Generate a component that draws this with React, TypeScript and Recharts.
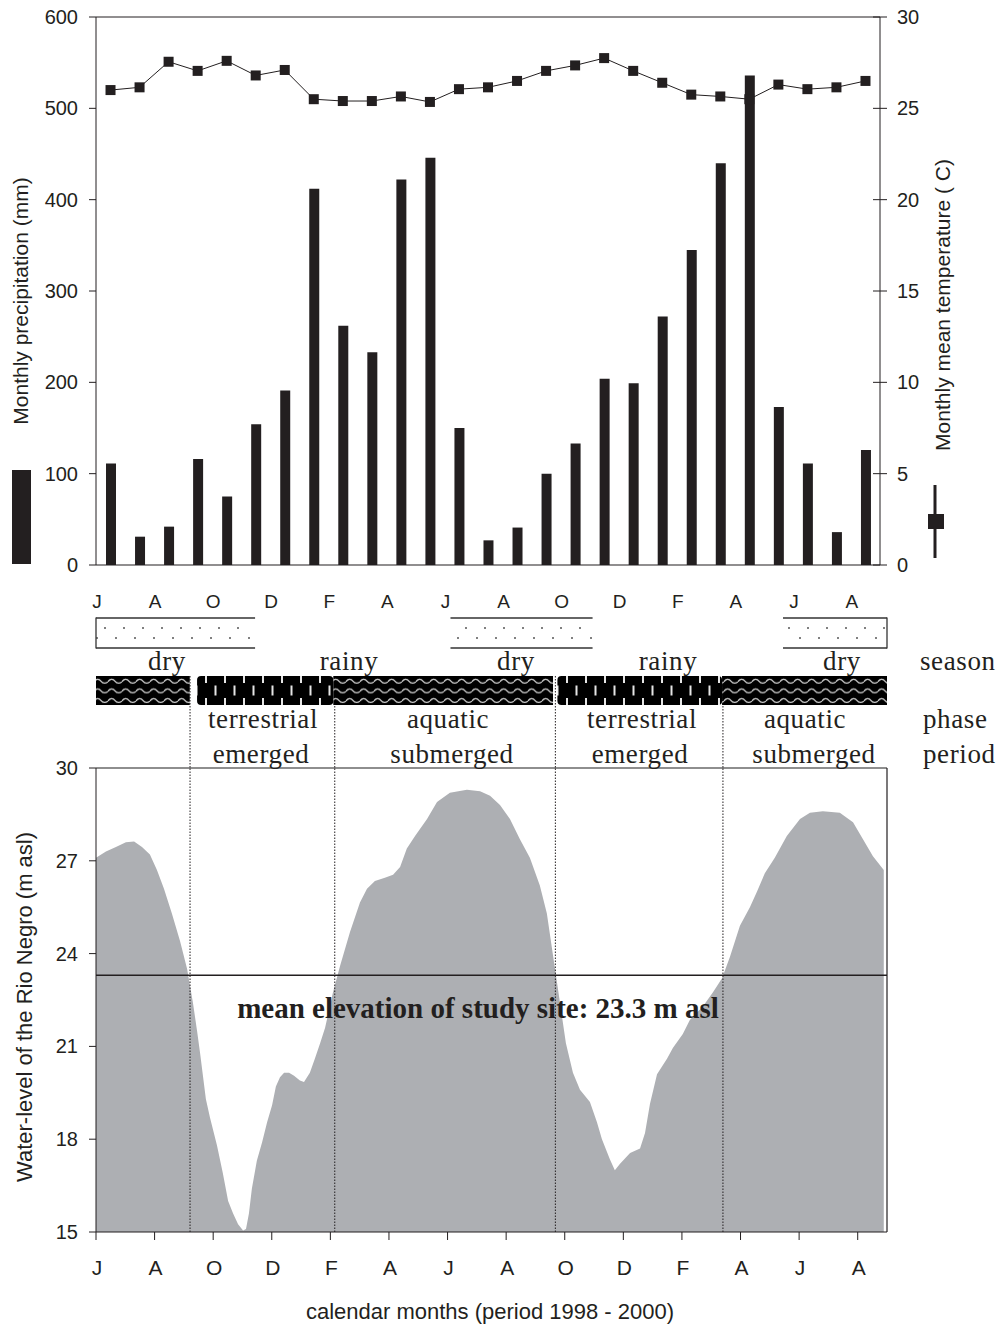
import React from 'react';
import { ComposedChart, AreaChart, Area, Bar, Line, XAxis, YAxis, ReferenceLine } from 'recharts';

const INK = '#231f20';
const WATER = '#adafb3';
const SANS = '"Liberation Sans", Arial, sans-serif';
const SERIF = '"Liberation Serif", "Times New Roman", serif';

// monthly climate, Jun 1998 - Aug 2000
const months = [
  'Jun', 'Jul', 'Aug', 'Sep', 'Oct', 'Nov', 'Dec', 'Jan', 'Feb', 'Mar', 'Apr', 'May',
  'Jun', 'Jul', 'Aug', 'Sep', 'Oct', 'Nov', 'Dec', 'Jan', 'Feb', 'Mar', 'Apr', 'May',
  'Jun', 'Jul', 'Aug',
];
const precipitation = [111, 31, 42, 116, 75, 154, 191, 412, 262, 233, 422, 446, 150, 27, 41, 100, 133, 204, 199, 272, 345, 440, 536, 173, 111, 36, 126];
const temperature = [26.0, 26.15, 27.55, 27.05, 27.6, 26.8, 27.1, 25.5, 25.4, 25.4, 25.65, 25.35, 26.05, 26.15, 26.5, 27.05, 27.35, 27.75, 27.05, 26.4, 25.75, 25.65, 25.5, 26.3, 26.05, 26.15, 26.5];

const monthTicks = [0, 2, 4, 6, 8, 10, 12, 14, 16, 18, 20, 22, 24, 26];
const monthTickLabels = ['J', 'A', 'O', 'D', 'F', 'A', 'J', 'A', 'O', 'D', 'F', 'A', 'J', 'A'];
const precipTicks = [0, 100, 200, 300, 400, 500, 600];
const tempTicks = [0, 5, 10, 15, 20, 25, 30];
const levelTicks = [15, 18, 21, 24, 27, 30];

// water level, months since 1 Jun 1998
const waterMonth = [
  0, 0.34, 0.68, 1.02, 1.3, 1.57, 1.84, 2.08, 2.32, 2.59, 2.87, 3.11, 3.31, 3.45, 3.55, 3.75, 3.89, 4.13, 4.33, 4.51,
  4.68, 4.85, 5.02, 5.12, 5.22, 5.32, 5.49, 5.67, 5.84, 6.01, 6.14, 6.28, 6.42, 6.59, 6.76, 6.96, 7.1, 7.3, 7.47, 7.65,
  7.82, 8.09, 8.33, 8.67, 9.01, 9.25, 9.52, 9.86, 10.14, 10.38, 10.61, 10.89, 11.3, 11.64, 12.08, 12.66, 13.11, 13.45, 13.79, 14.13,
  14.47, 14.81, 15.15, 15.39, 15.56, 15.7, 15.87, 16.04, 16.28, 16.52, 16.86, 17.1, 17.27, 17.54, 17.71, 17.88, 18.23, 18.57, 18.74, 18.91,
  19.15, 19.49, 19.69, 20.03, 20.27, 20.72, 21.06, 21.37, 21.64, 21.98, 22.32, 22.56, 22.83, 23.17, 23.58, 24.03, 24.37, 24.81, 25.39, 25.84,
  26.18, 26.52, 26.89,
];
const waterLevel = [
  27.1, 27.3, 27.45, 27.6, 27.62, 27.45, 27.2, 26.7, 26.1, 25.3, 24.4, 23.5, 22.4, 21.5, 20.8, 19.3, 18.7, 17.8, 16.9, 16.0,
  15.6, 15.25, 15.05, 15.1, 15.6, 16.4, 17.3, 17.9, 18.55, 19.1, 19.7, 20.0, 20.15, 20.15, 20.05, 19.9, 19.85, 20.15, 20.6, 21.1,
  21.6, 22.75, 23.6, 24.7, 25.65, 26.1, 26.35, 26.45, 26.55, 26.8, 27.4, 27.8, 28.35, 28.9, 29.2, 29.3, 29.25, 29.1, 28.8, 28.35,
  27.7, 27.1, 26.2, 25.3, 24.2, 23.3, 22.2, 21.1, 20.15, 19.6, 19.2, 18.55, 18.0, 17.35, 17.0, 17.2, 17.55, 17.7, 18.2, 19.15,
  20.1, 20.6, 20.95, 21.4, 21.85, 22.3, 22.75, 23.2, 23.9, 24.9, 25.5, 26.0, 26.6, 27.1, 27.8, 28.35, 28.55, 28.6, 28.55, 28.25,
  27.7, 27.15, 26.7,
];
const studySiteLevel = 23.3;

// seasons and hydrological phases, in months since 1 Jun 1998
const drySeasons = [[0, 5.43], [12.1, 16.95], [23.45, 27]];
const aquaticPhases = [[0, 3.2], [8.1, 15.6], [21.37, 27]];
const terrestrialPhases = [[3.45, 8.1], [15.75, 21.37]];
const phaseBoundaries = [3.21, 8.15, 15.68, 21.4];

const climateData = months.map((m, i) => ({
  month: m,
  t: i + 0.5,
  precip: precipitation[i],
  temp: temperature[i],
}));
const waterData = waterMonth.map((t, i) => ({ t, level: waterLevel[i] }));

// bottom plot spans x 96..887 for 27 months
const px = (t: number) => 96 + (t * 791) / 27;

const LeftTick = (p: any) => (
  <g>
    <line x1={p.x - 7} x2={p.x} y1={p.y} y2={p.y} stroke={INK} strokeWidth={1} />
    <text x={p.x - 18} y={p.y} dy="0.35em" textAnchor="end" fontSize={20} fill={INK} fontFamily={SANS}>
      {p.payload.value}
    </text>
  </g>
);

const RightTick = (p: any) => (
  <g>
    <line x1={p.x - 7} x2={p.x + 7} y1={p.y} y2={p.y} stroke={INK} strokeWidth={1} />
    <text x={p.x + 17} y={p.y} dy="0.35em" textAnchor="start" fontSize={20} fill={INK} fontFamily={SANS}>
      {p.payload.value}
    </text>
  </g>
);

const TopMonthTick = (p: any) => (
  <text x={p.x + 1} y={p.y + 36} dy="0.35em" textAnchor="middle" fontSize={19} fill={INK} fontFamily={SANS}>
    {monthTickLabels[monthTicks.indexOf(p.payload.value)]}
  </text>
);

const BottomMonthTick = (p: any) => (
  <g>
    <line x1={p.x} x2={p.x} y1={p.y} y2={p.y + 8} stroke={INK} strokeWidth={1} />
    <text x={p.x + 1} y={p.y + 36} dy="0.35em" textAnchor="middle" fontSize={21} fill={INK} fontFamily={SANS}>
      {monthTickLabels[monthTicks.indexOf(p.payload.value)]}
    </text>
  </g>
);

const SquareDot = (p: any) => (
  <rect key={`d${p.index}`} x={p.cx - 5} y={p.cy - 5} width={10} height={10} fill={INK} />
);

const serifText = { fontFamily: SERIF, fontSize: 27, fill: INK, letterSpacing: 0.6 } as const;

function Overlay() {
  return (
    <svg width={1002} height={1327} style={{ position: 'absolute', left: 0, top: 0, pointerEvents: 'none' }}>
      <defs>
        <pattern id="dots" patternUnits="userSpaceOnUse" x={96} y={618} width={19} height={30}>
          <rect width={19} height={30} fill="#fff" />
          <circle cx={9} cy={10} r={1} fill="#555" />
          <circle cx={1} cy={20} r={1} fill="#555" />
        </pattern>
        <pattern id="waves" patternUnits="userSpaceOnUse" x={94} y={676} width={14} height={9.67}>
          <rect width={14} height={9.67} fill="#000" />
          <path d="M0 5.8 C2 2.4 5 2.4 7 5.2 S12 7.4 14 5.8" fill="none" stroke="#d6d6d6" strokeWidth={1.2} />
        </pattern>
        <pattern id="chain" patternUnits="userSpaceOnUse" x={192} y={676} width={19} height={29}>
          <rect width={19} height={29} fill="#000" />
          <rect x={13} y={0} width={2} height={7} fill="#e6e6e6" />
          <rect x={13} y={22} width={2} height={7} fill="#e6e6e6" />
          <rect x={3.5} y={9.5} width={2} height={10} fill="#e6e6e6" />
        </pattern>
      </defs>

      {/* precipitation / temperature legend marks */}
      <rect x={12} y={470} width={19} height={94} fill={INK} />
      <line x1={935} x2={935} y1={485} y2={558} stroke={INK} strokeWidth={3} />
      <rect x={928} y={514} width={16} height={15} fill={INK} />

      <text transform="translate(21,301) rotate(-90)" dy="0.35em" textAnchor="middle" fontSize={21} fill={INK} fontFamily={SANS}>
        Monthly precipitation (mm)
      </text>
      <text transform="translate(943,305) rotate(-90)" dy="0.35em" textAnchor="middle" fontSize={21} fill={INK} fontFamily={SANS}>
        Monthly mean temperature ( C)
      </text>

      {/* season bar */}
      {drySeasons.map(([a, b], i) => (
        <g key={`s${i}`}>
          <rect x={px(a)} y={618} width={px(b) - px(a)} height={30} fill="url(#dots)" />
          <line x1={px(a)} x2={px(b)} y1={618} y2={618} stroke="#333" strokeWidth={1.3} />
          <line x1={px(a)} x2={px(b)} y1={648} y2={648} stroke="#333" strokeWidth={1.3} />
        </g>
      ))}
      <line x1={px(0)} x2={px(0)} y1={617.5} y2={648.5} stroke="#333" strokeWidth={1.3} />
      <line x1={px(27)} x2={px(27)} y1={617.5} y2={648.5} stroke="#333" strokeWidth={1.3} />

      {[['dry', 167], ['rainy', 349], ['dry', 516], ['rainy', 668], ['dry', 842]].map(([s, x], i) => (
        <text key={`sl${i}`} x={x as number} y={670} textAnchor="middle" {...serifText}>{s}</text>
      ))}
      <text x={920} y={670} {...serifText}>season</text>

      {/* phase boundaries above the water-level plot */}
      {phaseBoundaries.map((b, i) => (
        <line key={`pb${i}`} x1={px(b)} x2={px(b)} y1={676} y2={769} stroke={INK} strokeWidth={1} strokeDasharray="1.5 1.5" />
      ))}

      {/* phase bar */}
      {aquaticPhases.map(([a, b], i) => (
        <rect key={`aq${i}`} x={px(a)} y={676} width={px(b) - px(a)} height={29} fill="url(#waves)" />
      ))}
      {terrestrialPhases.map(([a, b], i) => (
        <rect key={`te${i}`} x={px(a)} y={676} width={px(b) - px(a)} height={29} rx={4} fill="url(#chain)" />
      ))}

      {[['terrestrial', 263], ['aquatic', 448], ['terrestrial', 642], ['aquatic', 805]].map(([s, x], i) => (
        <text key={`ph${i}`} x={x as number} y={728} textAnchor="middle" {...serifText}>{s}</text>
      ))}
      <text x={923} y={728} {...serifText}>phase</text>
      {[['emerged', 261], ['submerged', 452], ['emerged', 640], ['submerged', 814]].map(([s, x], i) => (
        <text key={`pe${i}`} x={x as number} y={763} textAnchor="middle" {...serifText}>{s}</text>
      ))}
      <text x={923} y={763} {...serifText}>period</text>

      <text x={478} y={1018} textAnchor="middle" fontFamily={SERIF} fontWeight="bold" fontSize={29} fill={INK}>
        mean elevation of study site: 23.3 m asl
      </text>

      <text transform="translate(24,1007) rotate(-90)" dy="0.35em" textAnchor="middle" fontSize={22} fill={INK} fontFamily={SANS}>
        Water-level of the Rio Negro (m asl)
      </text>
      <text x={490} y={1319} textAnchor="middle" fontSize={22} fill={INK} fontFamily={SANS}>
        calendar months (period 1998 - 2000)
      </text>
    </svg>
  );
}

export default function App() {
  return (
    <div style={{ position: 'absolute', left: 0, top: 0, width: 1002, height: 1327, background: '#fff', fontFamily: SANS }}>
      <div style={{ position: 'absolute', left: 0, top: 0 }}>
        <ComposedChart width={1002} height={620} data={climateData} margin={{ top: 17, right: 62, bottom: 25, left: 36 }}>
          <XAxis
            type="number"
            dataKey="t"
            domain={[0, 27]}
            ticks={monthTicks}
            interval={0}
            height={30}
            tickSize={0}
            tickMargin={0}
            tickLine={false}
            tick={TopMonthTick}
            axisLine={{ stroke: INK, strokeWidth: 1.2 }}
          />
          <YAxis
            yAxisId="precip"
            domain={[0, 600]}
            ticks={precipTicks}
            interval={0}
            width={60}
            tickSize={0}
            tickMargin={0}
            tickLine={false}
            tick={LeftTick}
            axisLine={{ stroke: INK }}
          />
          <YAxis
            yAxisId="temp"
            orientation="right"
            domain={[0, 30]}
            ticks={tempTicks}
            interval={0}
            width={60}
            tickSize={0}
            tickMargin={0}
            tickLine={false}
            tick={RightTick}
            axisLine={{ stroke: INK }}
          />
          <ReferenceLine yAxisId="precip" y={600} stroke={INK} strokeWidth={1} />
          <Bar yAxisId="precip" dataKey="precip" fill={INK} barSize={10} isAnimationActive={false} />
          <Line
            yAxisId="temp"
            dataKey="temp"
            type="linear"
            stroke={INK}
            strokeWidth={1}
            dot={SquareDot}
            activeDot={false}
            isAnimationActive={false}
          />
        </ComposedChart>
      </div>

      <div style={{ position: 'absolute', left: 0, top: 740 }}>
        <AreaChart width={1002} height={587} data={waterData} margin={{ top: 28, right: 115, bottom: 45, left: 36 }}>
          <XAxis
            type="number"
            dataKey="t"
            domain={[0, 27]}
            ticks={monthTicks}
            interval={0}
            height={50}
            tickSize={0}
            tickMargin={0}
            tickLine={false}
            tick={BottomMonthTick}
            axisLine={{ stroke: INK, strokeWidth: 1.2 }}
          />
          <YAxis
            domain={[15, 30]}
            ticks={levelTicks}
            interval={0}
            width={60}
            tickSize={0}
            tickMargin={0}
            tickLine={false}
            tick={LeftTick}
            axisLine={{ stroke: INK }}
            allowDataOverflow
          />
          <Area
            dataKey="level"
            type="linear"
            baseValue={15}
            fill={WATER}
            fillOpacity={1}
            stroke="none"
            activeDot={false}
            isAnimationActive={false}
          />
          <ReferenceLine y={30} stroke="#8e8e8e" strokeWidth={2} />
          <ReferenceLine x={27} stroke={INK} strokeWidth={1.2} />
          <ReferenceLine y={studySiteLevel} stroke={INK} strokeWidth={1.5} />
          {phaseBoundaries.map((b) => (
            <ReferenceLine key={b} x={b} stroke={INK} strokeWidth={1} strokeDasharray="1.5 1.5" />
          ))}
        </AreaChart>
      </div>

      <Overlay />
    </div>
  );
}
